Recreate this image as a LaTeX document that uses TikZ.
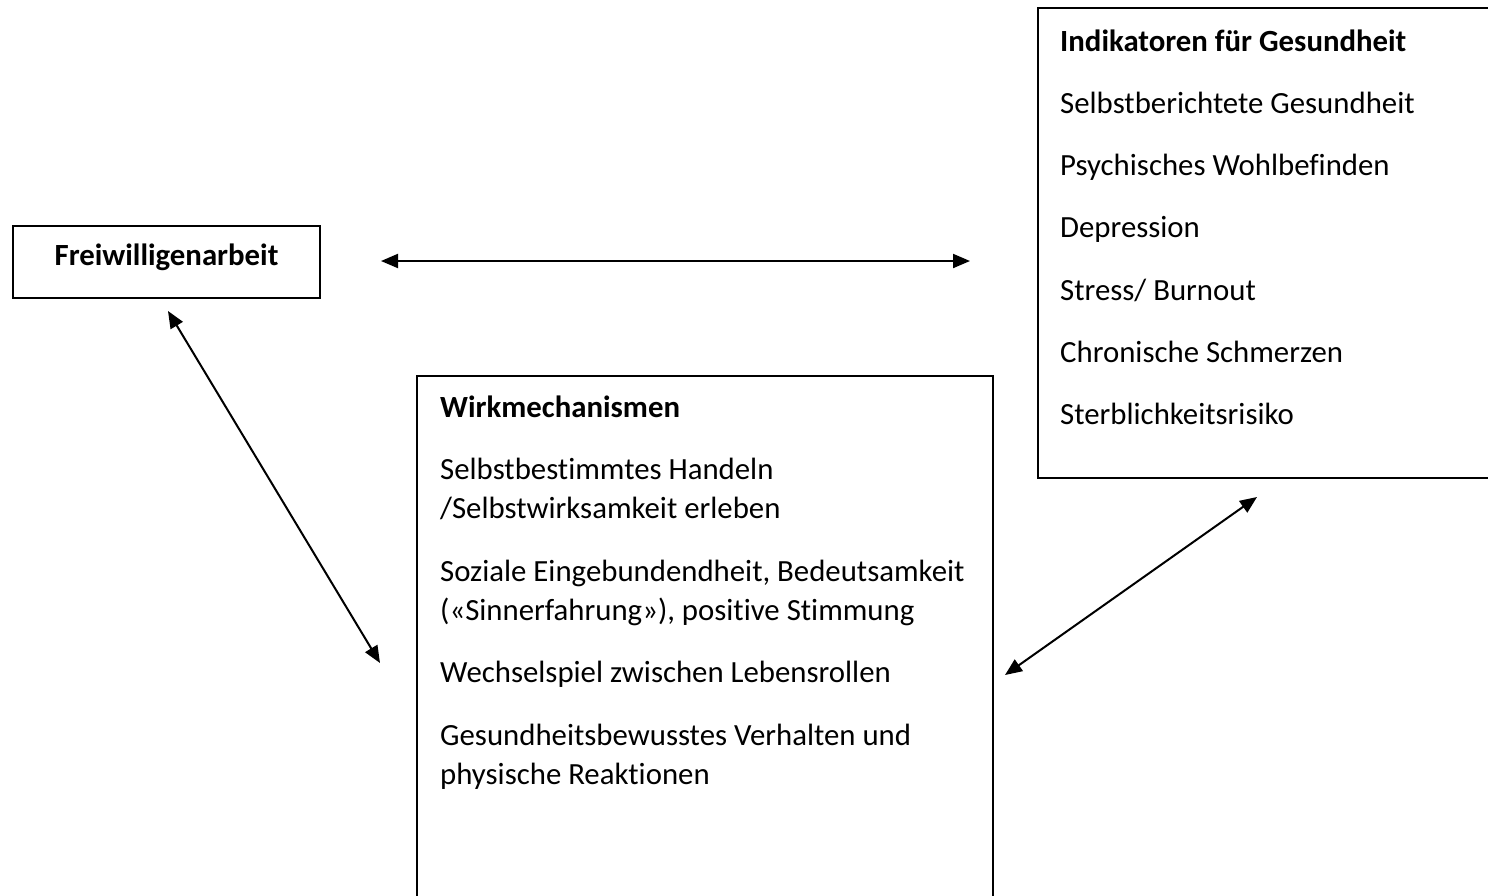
\documentclass[tikz,border=0pt]{standalone}
\usepackage{fontspec}
\setmainfont[Ligatures=NoCommon]{Carlito}
\usetikzlibrary{arrows.meta}
\tikzset{
  boxline/.style={draw=black, line width=2pt},
  txt/.style={anchor=base west, inner sep=0pt, font=\fontsize{30.8}{39.5}\selectfont},
  hd/.style={txt, font=\fontsize{30.8}{39.5}\selectfont\bfseries},
  biarrow/.style={line width=2pt, {Triangle[length=17pt,width=14pt]}-{Triangle[length=17pt,width=14pt]}}
}
\begin{document}
\begin{tikzpicture}[x=1pt,y=-1pt]
\useasboundingbox (0,0) rectangle (1488,895);
\clip (0,0) rectangle (1488,895);
% boxes
\draw[boxline] (13,226) rectangle (320,298);
\node[inner sep=0pt, anchor=base, font=\fontsize{30.8}{39.5}\selectfont\bfseries] (fw) at (166.5,265) {Freiwilligenarbeit};
\draw[boxline] (417,910) -- (417,376) -- (993,376) -- (993,910);
\draw[boxline] (1500,8) -- (1038,8) -- (1038,478) -- (1500,478);
% Indikatoren text
\node[hd] (i0) at (1060,51) {Indikatoren für Gesundheit};
\node[txt] (i1) at (1060,113.3) {Selbstberichtete Gesundheit};
\node[txt] (i2) at (1060,175.6) {Psychisches Wohlbefinden};
\node[txt] (i3) at (1060,237.9) {Depression};
\node[txt] (i4) at (1060,300.2) {Stress/ Burnout};
\node[txt] (i5) at (1060,362.5) {Chronische Schmerzen};
\node[txt] (i6) at (1060,424.8) {Sterblichkeitsrisiko};
% Wirkmechanismen text
\node[hd] (w0) at (440,417) {Wirkmechanismen};
\node[txt] (w1) at (440,479.3) {Selbstbestimmtes Handeln};
\node[txt] (w1b) at (440,518.8) {/Selbstwirksamkeit erleben};
\node[txt] (w2) at (440,581.1) {Soziale Eingebundendheit, Bedeutsamkeit};
\node[txt] (w2b) at (440,620.6) {(«Sinnerfahrung»), positive Stimmung};
\node[txt] (w3) at (440,682.9) {Wechselspiel zwischen Lebensrollen};
\node[txt] (w4) at (440,745.2) {Gesundheitsbewusstes Verhalten und};
\node[txt] (w4b) at (440,784.7) {physische Reaktionen};
% arrow end points
\coordinate (a1) at (381,261);
\coordinate (a2) at (970,261);
\coordinate (b1) at (168,311);
\coordinate (b2) at (380,663);
\coordinate (c1) at (1257,497);
\coordinate (c2) at (1005,675);
\draw[biarrow] (a1) -- (a2);
\draw[biarrow] (b1) -- (b2);
\draw[biarrow] (c1) -- (c2);
\end{tikzpicture}
\end{document}
